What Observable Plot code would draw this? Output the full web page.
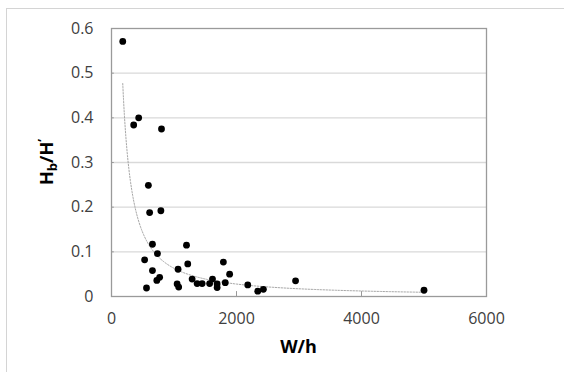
<!DOCTYPE html>
<html><head><meta charset="utf-8">
<script src="https://cdn.jsdelivr.net/npm/d3@7"></script>
<script src="https://cdn.jsdelivr.net/npm/@observablehq/plot@0.6"></script>
<style>
body{margin:0;background:#fff;}
#wrap{position:relative;width:564px;height:372px;overflow:hidden;}
#border{position:absolute;left:6px;top:8px;width:600px;height:400px;border:1px solid #d4d4d4;box-sizing:border-box;}
#chart{position:absolute;left:0;top:0;}
</style>
</head><body>
<div id="wrap"><div id="border"></div><div id="chart"></div></div>
<script>
// W/h values (x)
const widthRatio = [180, 355, 435, 800, 590, 610, 790, 655, 735, 530, 655, 770, 725, 560,
  1200, 1220, 1065, 1050, 1075, 1290, 1370, 1450, 1570, 1616, 1690, 1690, 1790, 1820, 1890,
  2180, 2340, 2430, 2945, 5000];
// Hb/H' values (y)
const heightRatio = [0.571, 0.384, 0.400, 0.375, 0.249, 0.188, 0.192, 0.117, 0.096, 0.082, 0.058, 0.043, 0.036, 0.019,
  0.115, 0.073, 0.061, 0.028, 0.021, 0.039, 0.029, 0.029, 0.029, 0.039, 0.028, 0.020, 0.077, 0.031, 0.050,
  0.026, 0.012, 0.016, 0.035, 0.014];
const xTicks = [0, 2000, 4000, 6000];
const yTicks = [0, 0.1, 0.2, 0.3, 0.4, 0.5, 0.6];
const gridValues = [0.1, 0.2, 0.3, 0.4, 0.5];

const points = widthRatio.map((x, i) => ({x, y: heightRatio[i]}));

// Power trendline (least squares on log-log), as a spreadsheet would fit it
const lx = points.map(p => Math.log(p.x)), ly = points.map(p => Math.log(p.y));
const mx = d3.mean(lx), my = d3.mean(ly);
const B = d3.sum(lx.map((v, i) => (v - mx) * (ly[i] - my))) / d3.sum(lx.map(v => (v - mx) ** 2));
const A = Math.exp(my - B * mx);
const [xmin, xmax] = d3.extent(widthRatio);
const trend = d3.range(0, 201).map(i => {
  const x = xmin * Math.pow(xmax / xmin, i / 200);
  return {x, y: A * Math.pow(x, B)};
});

const font = "'Open Sans', sans-serif";
const chart = Plot.plot({
  width: 564, height: 372,
  marginLeft: 111, marginRight: 78, marginTop: 28, marginBottom: 76,
  style: {fontFamily: font, fontSize: "16px", color: "#404040", background: "transparent"},
  x: {domain: [0, 6000], ticks: xTicks},
  y: {domain: [0, 0.6], ticks: yTicks},
  marks: [
    Plot.gridY(gridValues, {stroke: "#d9d9d9", strokeOpacity: 1, strokeWidth: 1.4}),
    Plot.ruleX(xTicks, {x: d => d, y1: 0, y2: 0.011, stroke: "#999"}),
    Plot.ruleY(yTicks, {y: d => d, x1: 0, x2: 45, stroke: "#999"}),
    Plot.frame({stroke: "#9a9a9a", strokeWidth: 1.3}),
    Plot.axisX({ticks: xTicks, tickSize: 0, tickPadding: 16, tickFormat: d => String(d), label: null, fontSize: 16}),
    Plot.axisY({ticks: yTicks, tickSize: 0, tickPadding: 18, tickFormat: d => String(d), label: null, fontSize: 16}),
    Plot.line(trend, {x: "x", y: "y", stroke: "#a6a6a6", strokeWidth: 1, strokeDasharray: "1.5,1.5"}),
    Plot.dot(points, {x: "x", y: "y", r: 3.4, fill: "#000", stroke: "none"})
  ]
});
document.getElementById("chart").append(chart);

const svg = d3.select(chart);
svg.append("text")
  .attr("x", 298.5).attr("y", 353)
  .attr("text-anchor", "middle")
  .style("font-family", font).style("font-weight", "bold").style("font-size", "18px").style("fill", "#000")
  .text("W/h");
const yt = svg.append("text")
  .attr("transform", "translate(53,162) rotate(-90)")
  .attr("text-anchor", "middle")
  .style("font-family", font).style("font-weight", "bold").style("font-size", "18px").style("fill", "#000");
yt.append("tspan").text("H");
yt.append("tspan").attr("dy", 4).style("font-size", "13px").text("b");
yt.append("tspan").attr("dy", -4).text("/H");
yt.append("tspan").attr("dy", -6).style("font-size", "13px").text("’");
</script>
</body></html>
